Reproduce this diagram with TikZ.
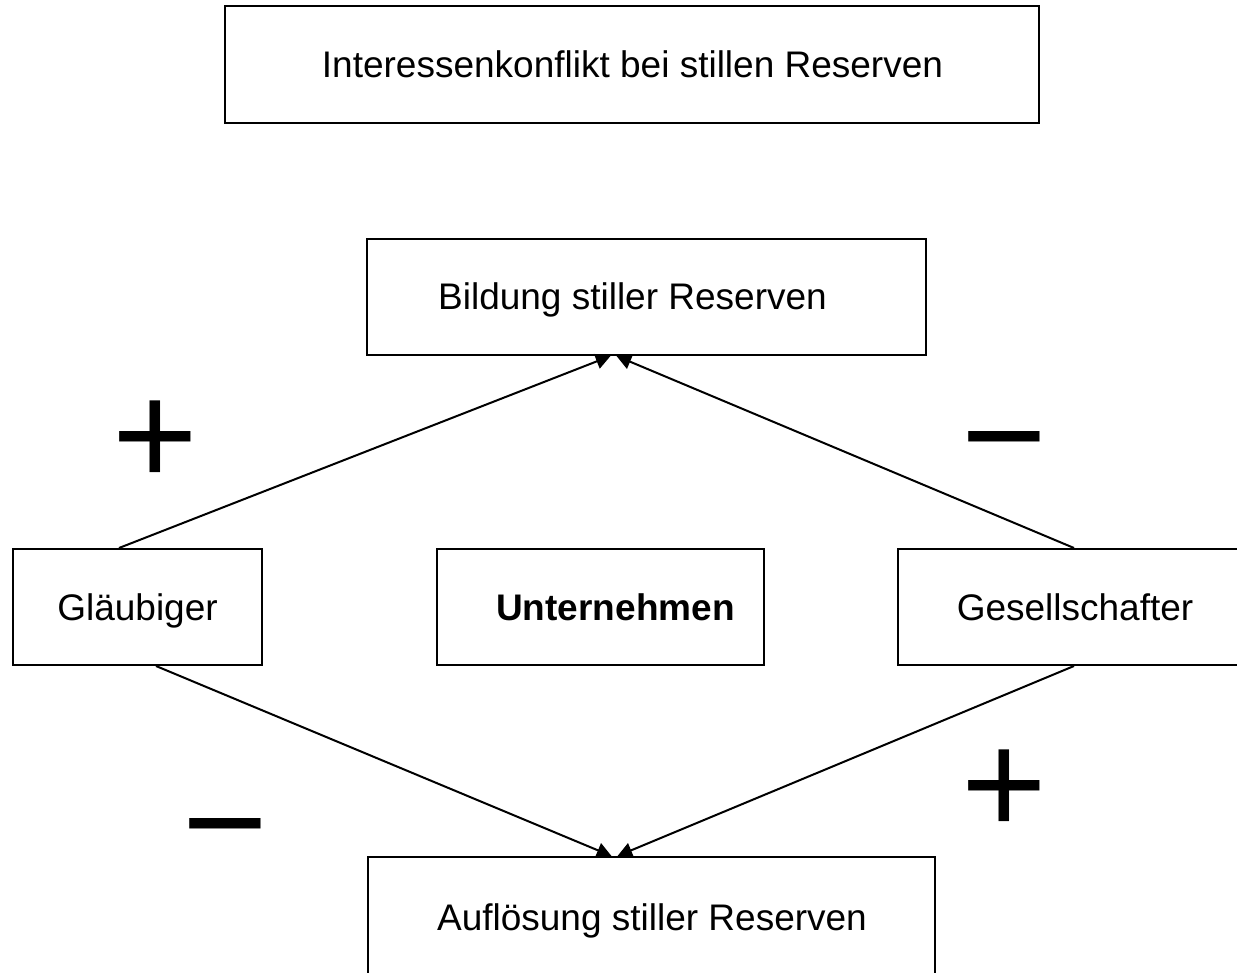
\documentclass[tikz,border=0pt]{standalone}
\usepackage{fontspec}
\setmainfont{Liberation Sans}
\usetikzlibrary{arrows.meta,calc}
\begin{document}
\begin{tikzpicture}[x=0.75pt,y=-0.75pt,
  box/.style 2 args={draw=black,line width=1.5pt,fill=none,inner sep=0pt,
    minimum width={#1*0.75pt},minimum height={#2*0.75pt}},
  lbl/.style={anchor=base,inner sep=0pt,font=\fontsize{27.75}{33}\selectfont},
  sign/.style={anchor=base,inner sep=0pt,font=\fontsize{110}{120}\selectfont},
  conn/.style={line width=1.5pt,-{Triangle[length=11pt,width=11.5pt]}}]
\useasboundingbox (0,0) rectangle (1237,973);
% boxes
\node[box={814}{117}] (title) at (632,64.5) {};
\node[box={559}{116}] (bild) at (646.5,297) {};
\node[box={249}{116}] (glaeub) at (137.5,607) {};
\node[box={327}{116}] (unter) at (600.5,607) {};
\node[box={350}{116}] (gesell) at (1073,607) {};
\node[box={567}{140}] (aufl) at (651.5,927) {};
% texts
\node[lbl] (titlet) at (632.5,77.5) {Interessenkonflikt bei stillen Reserven};
\node[lbl] (bildt) at (632.5,310) {Bildung stiller Reserven};
\node[lbl] (glaeubt) at (137.5,620) {Gläubiger};
\node[lbl,font=\fontsize{27.75}{33}\selectfont\bfseries] (untert) at (615.5,620) {Unternehmen};
\node[lbl] (gesellt) at (1075,620) {Gesellschafter};
\node[lbl] (auflt) at (652,930) {Auflösung stiller Reserven};
% signs
\node[sign] (p1) at (155,485) {+};
\node[sign] (m1) at (1004,485.5) {−};
\node[sign] (m2) at (225.5,872.5) {−};
\node[sign] (p2) at (1004,834.5) {+};
% connector end points
\coordinate (gT) at ($(glaeub.north west)+(107,0)$);
\coordinate (gB) at ($(glaeub.south west)+(144,0)$);
\coordinate (sT) at ($(gesell.north west)+(177,0)$);
\coordinate (sB) at ($(gesell.south west)+(177,0)$);
\coordinate (bL) at ($(bild.south west)+(244.5,0)$);
\coordinate (bR) at ($(bild.south west)+(250.5,0)$);
\coordinate (aL) at ($(aufl.north west)+(244.5,0)$);
\coordinate (aR) at ($(aufl.north west)+(250.5,0)$);
\draw[conn] (gT) -- (bL);
\draw[conn] (sT) -- (bR);
\draw[conn] (gB) -- (aL);
\draw[conn] (sB) -- (aR);
\end{tikzpicture}
\end{document}
